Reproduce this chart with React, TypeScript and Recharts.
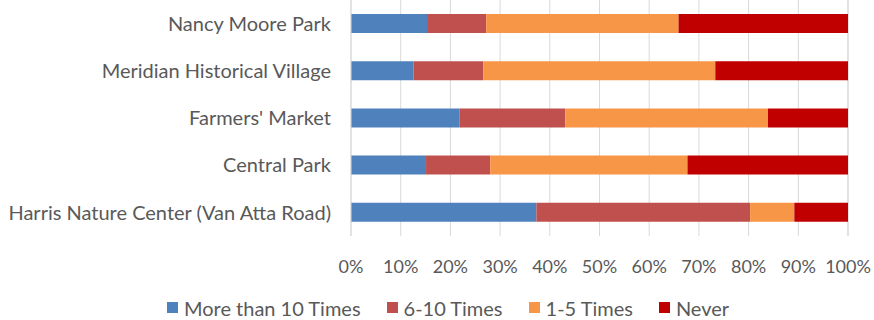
import { BarChart, Bar, XAxis, YAxis, CartesianGrid, Legend } from "recharts";

const places = [
    "Nancy Moore Park",
    "Meridian Historical Village",
    "Farmers' Market",
    "Central Park",
    "Harris Nature Center (Van Atta Road)",
];
const moreThan10 = [15.3, 12.6, 21.8, 15.1, 37.3];
const sixTo10 = [11.9, 14.0, 21.3, 12.9, 43.0];
const oneTo5 = [38.7, 46.7, 40.8, 39.7, 8.9];
const never = [34.1, 26.7, 16.1, 32.3, 10.8];
const pctTicks = [0, 10, 20, 30, 40, 50, 60, 70, 80, 90, 100];

const series = [
    { key: "more", name: "More than 10 Times", color: "#4F81BD" },
    { key: "six", name: "6-10 Times", color: "#C0504D" },
    { key: "one", name: "1-5 Times", color: "#F79646" },
    { key: "never", name: "Never", color: "#C00000" },
];

const data = places.map((place, i) => ({
    place,
    more: moreThan10[i],
    six: sixTo10[i],
    one: oneTo5[i],
    never: never[i],
}));

const FONT = "Lato, 'Liberation Sans', sans-serif";
const TEXT = "#595959";

const LegendContent = () => (
    <div style={{ height: 44, paddingTop: 19, paddingLeft: 48, boxSizing: "border-box", display: "flex", justifyContent: "center", gap: 26, fontFamily: FONT, fontSize: 20, color: TEXT, lineHeight: "20px" }}>
        {series.map((s) => (
            <div key={s.key} style={{ display: "flex", alignItems: "center", gap: 6 }}>
                <span style={{ width: 11, height: 11, background: s.color, display: "inline-block" }} />
                <span>{s.name}</span>
            </div>
        ))}
    </div>
);

export default function App() {
    return (
        <div style={{ position: "absolute", left: 0, top: 0, background: "#fff" }}>
            <BarChart
                width={874}
                height={320}
                data={data}
                layout="vertical"
                barSize={19}
                margin={{ top: 0, right: 26, bottom: 0, left: 0 }}
            >
                <CartesianGrid horizontal={false} stroke="#d9d9d9" />
                <XAxis
                    type="number"
                    domain={[0, 100]}
                    ticks={pctTicks}
                    tickFormatter={(v) => `${v}%`}
                    axisLine={false}
                    tickLine={false}
                    height={40}
                    tickMargin={18}
                    interval={0}
                    tick={{ fontFamily: FONT, fontSize: 18, fill: TEXT }}
                />
                <YAxis
                    type="category"
                    dataKey="place"
                    width={351}
                    axisLine={{ stroke: "#d9d9d9" }}
                    tickLine={false}
                    tickMargin={14}
                    tick={{ fontFamily: FONT, fontSize: 20, fill: TEXT }}
                />
                <Legend verticalAlign="bottom" height={44} content={<LegendContent />} />
                {series.map((s) => (
                    <Bar key={s.key} dataKey={s.key} name={s.name} stackId="a" fill={s.color} isAnimationActive={false} />
                ))}
            </BarChart>
        </div>
    );
}
